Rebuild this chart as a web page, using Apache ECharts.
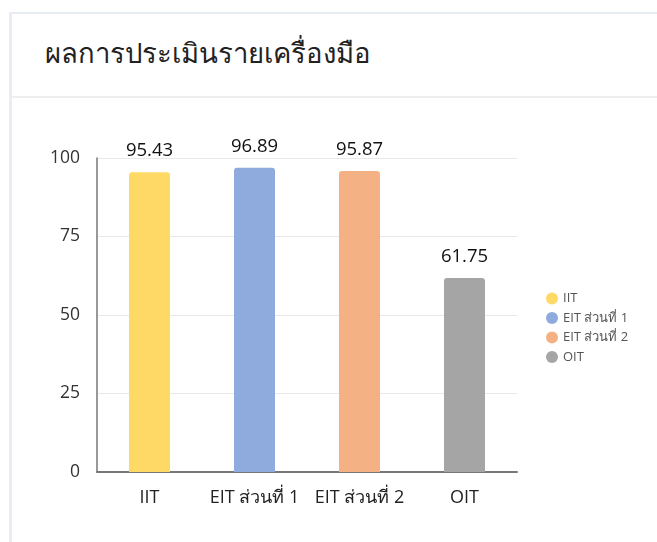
<!DOCTYPE html>
<html>
<head>
<meta charset="utf-8">
<script src="https://cdn.jsdelivr.net/npm/echarts@6/dist/echarts.min.js"></script>
<style>
html,body{margin:0;padding:0;background:#fff;width:657px;height:542px;overflow:hidden;}
#card{position:absolute;left:9px;top:12px;width:660px;height:540px;border-left:3px solid #e8edf3;border-top:2px solid #e8edf3;}
#head{position:absolute;left:12px;top:14px;width:660px;height:82px;border-bottom:2px solid #eeeeee;}
#title{position:absolute;left:45px;top:31px;font-family:"Open Sans","Noto Sans",sans-serif;font-size:27.5px;color:#222;white-space:nowrap;}
#chart{position:absolute;left:0;top:0;width:657px;height:542px;}
</style>
</head>
<body>
<div id="card"></div>
<div id="head"></div>
<div id="title">ผลการประเมินรายเครื่องมือ</div>
<div id="chart"></div>
<script>
const categories = ["IIT", "EIT ส่วนที่ 1", "EIT ส่วนที่ 2", "OIT"];
const values = [95.43, 96.89, 95.87, 61.75];
const colors = ["#FFD966", "#8FAADC", "#F4B183", "#A5A5A5"];
const yTicks = [0, 25, 50, 75, 100];

const chart = echarts.init(document.getElementById('chart'), null, {renderer: 'canvas'});
const font = '"Open Sans","Noto Sans",sans-serif';
const series = categories.map((name, i) => ({
  name: name,
  type: 'bar',
  stack: 'all',
  barWidth: 41,
  itemStyle: {color: colors[i], borderRadius: [3, 3, 0, 0]},
  label: {show: true, position: 'top', distance: 12, fontSize: 18.5, color: '#111', fontFamily: font,
          formatter: p => p.value.toFixed(2)},
  data: categories.map((c, j) => j === i ? values[i] : '-')
}));

chart.setOption({
  animation: false,
  textStyle: {fontFamily: font},
  grid: {left: 97, right: 140, top: 158, bottom: 70, containLabel: false},
  legend: {
    orient: 'vertical', left: 541, top: 287,
    icon: 'circle', itemWidth: 12, itemHeight: 12, itemGap: 6.5,
    textStyle: {fontSize: 13, color: '#555', fontFamily: font},
    data: categories
  },
  xAxis: {
    type: 'category', data: categories,
    axisLine: {lineStyle: {color: '#777', width: 2}},
    axisTick: {show: false},
    axisLabel: {fontSize: 18, color: '#222', margin: 17, fontFamily: font, interval: 0}
  },
  yAxis: {
    type: 'value', min: yTicks[0], max: yTicks[yTicks.length - 1], interval: 25,
    axisLine: {show: true, lineStyle: {color: '#777', width: 1.5}},
    axisTick: {show: false},
    splitLine: {lineStyle: {color: '#e8e8e8'}},
    axisLabel: {fontSize: 17.5, color: '#333', margin: 17, fontFamily: font}
  },
  series: series
});
</script>
</body>
</html>
